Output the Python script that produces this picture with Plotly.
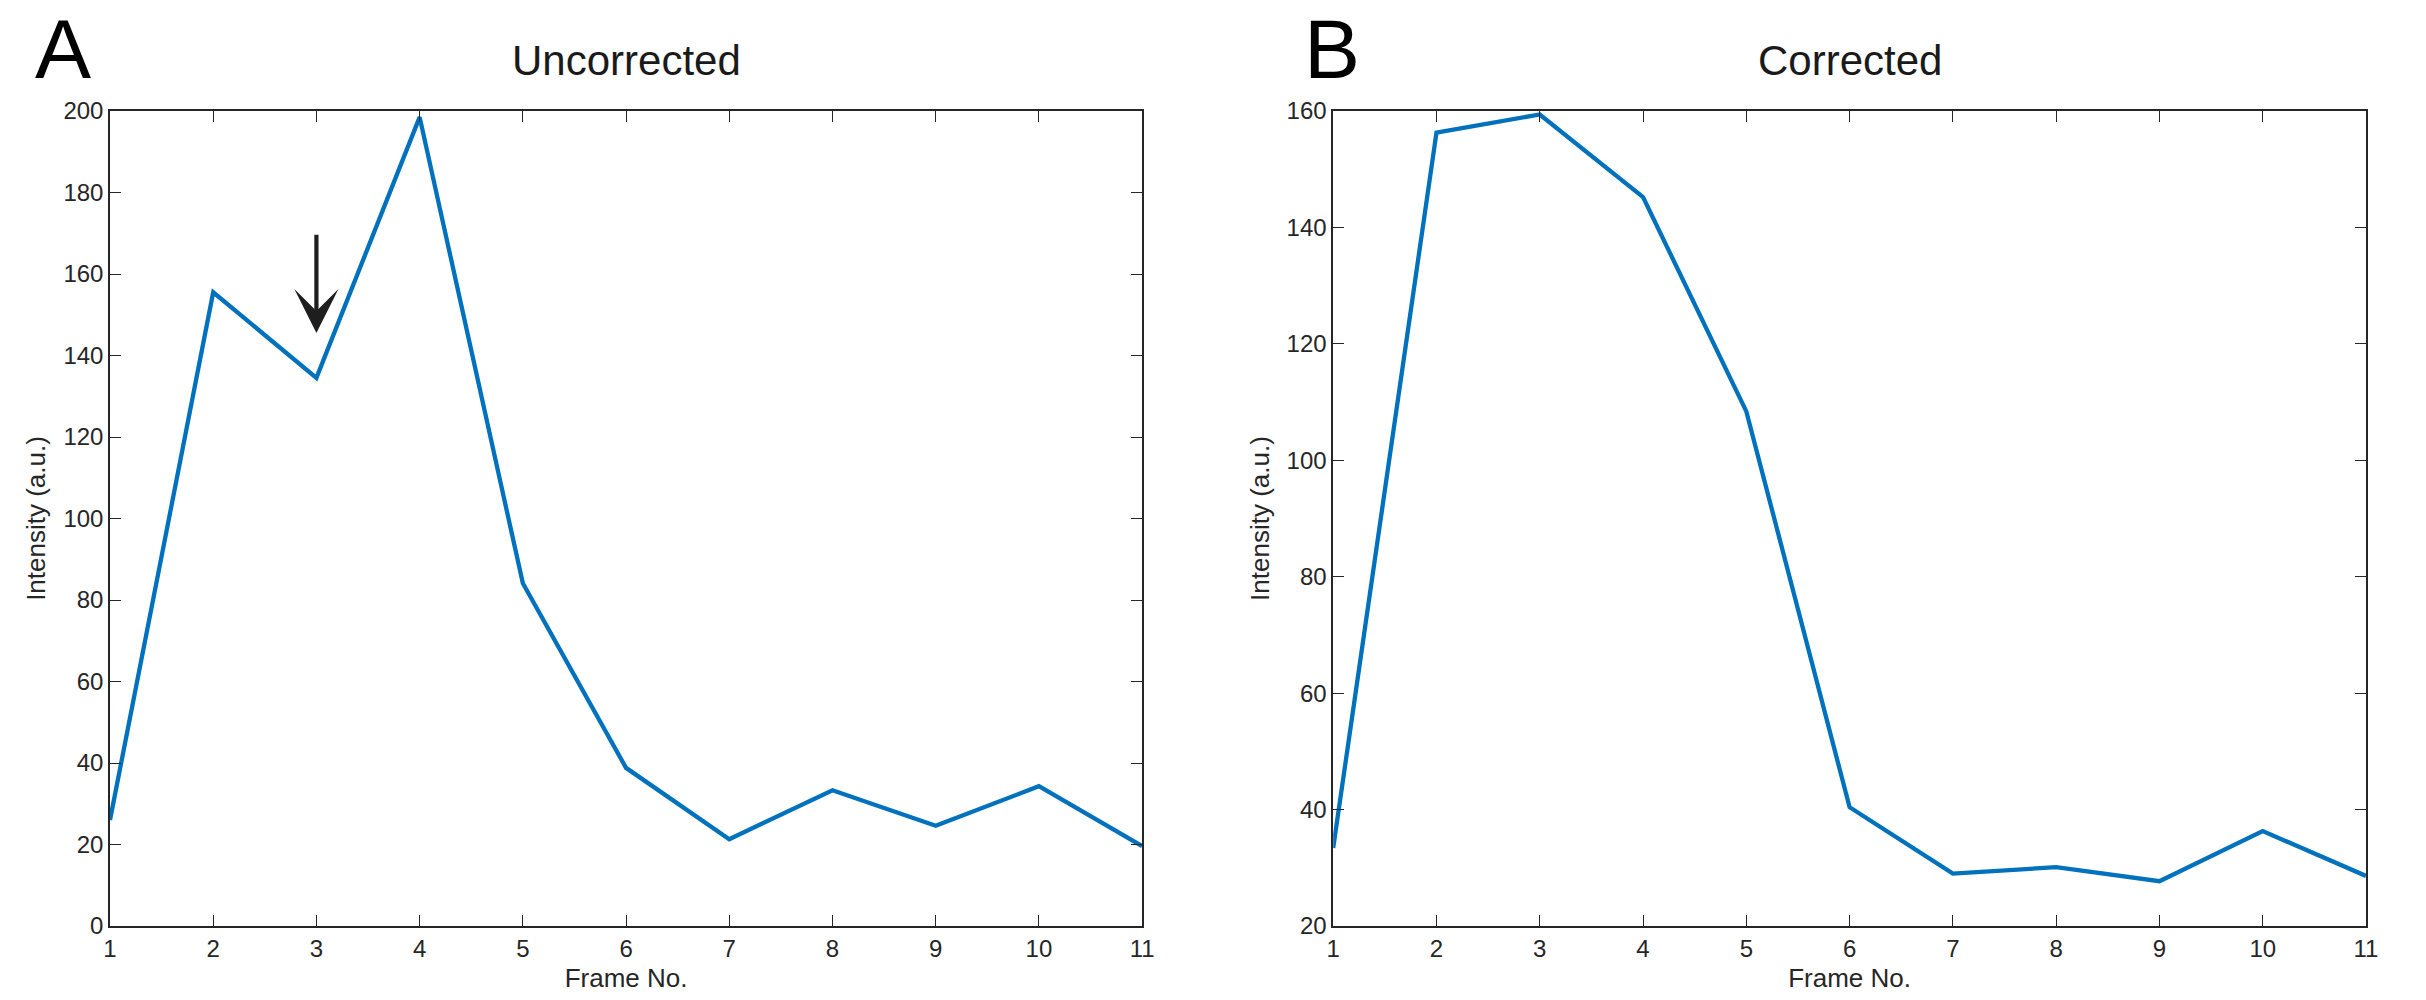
import plotly.graph_objects as go

frames = list(range(1, 12))
uncorrected = [26, 155.5, 134.5, 198.5, 84.1, 38.8, 21.3, 33.3, 24.6, 34.3, 19.6]
corrected = [33.4, 156.3, 159.4, 145.2, 108.4, 40.4, 29.0, 30.1, 27.7, 36.3, 28.6]

panel_titles = ["Uncorrected", "Corrected"]
panel_letters = ["A", "B"]
x_label = "Frame No."
y_label = "Intensity (a.u.)"
y_range_a = [0, 200]
y_range_b = [20, 160]
arrow_frame = 3
arrow_tip = 145.5
arrow_tail = 170

LINE = "#0072BD"
AX = "#262626"
FONT = "Liberation Sans, Arial, Helvetica, sans-serif"

fig = go.Figure()
fig.add_trace(go.Scatter(x=frames, y=uncorrected, mode="lines",
                         line=dict(color=LINE, width=4.3), xaxis="x", yaxis="y",
                         showlegend=False))
fig.add_trace(go.Scatter(x=frames, y=corrected, mode="lines",
                         line=dict(color=LINE, width=4.3), xaxis="x2", yaxis="y2",
                         showlegend=False))

common = dict(showline=True, linecolor=AX, linewidth=1.5, mirror="ticks",
              ticks="inside", ticklen=11, tickwidth=1.3, tickcolor=AX,
              showgrid=False, zeroline=False,
              tickfont=dict(family=FONT, size=24, color=AX))

xcommon = dict(common, range=[1, 11], tickvals=frames,
               title=dict(text=x_label, font=dict(family=FONT, size=26, color=AX), standoff=8))

fig.update_layout(
    width=2426, height=1000,
    margin=dict(l=110, r=60, t=111, b=74, pad=0),
    paper_bgcolor="white", plot_bgcolor="white",
    xaxis=dict(xcommon, domain=[0, 0.4575], anchor="y"),
    xaxis2=dict(xcommon, domain=[0.5422, 1], anchor="y2"),
    yaxis=dict(common, range=y_range_a, dtick=20, anchor="x",
               title=dict(text=y_label, font=dict(family=FONT, size=26, color=AX), standoff=10)),
    yaxis2=dict(common, range=y_range_b, dtick=20, anchor="x2",
                title=dict(text=y_label, font=dict(family=FONT, size=26, color=AX), standoff=10)),
)

centers = [0.4575 / 2, (0.5422 + 1) / 2]
letter_x = [-0.034, 0.5285]
for i in range(2):
    fig.add_annotation(text=panel_titles[i], xref="paper", yref="paper",
                       x=centers[i], y=1.062, xanchor="center", yanchor="middle",
                       showarrow=False, font=dict(family=FONT, size=42, color="#1a1a1a"))
    fig.add_annotation(text=panel_letters[i], xref="paper", yref="paper",
                       x=letter_x[i], y=1.076, xanchor="left", yanchor="middle",
                       showarrow=False, font=dict(family=FONT, size=84, color="black"))

fig.add_annotation(x=arrow_frame, y=arrow_tip, ax=arrow_frame, ay=arrow_tail,
                   xref="x", yref="y", axref="x", ayref="y", text="",
                   showarrow=True, arrowhead=3, arrowsize=1.75, arrowwidth=4.2,
                   arrowcolor="#1e1e1e", standoff=0)

fig.write_html("out.html", config={"displayModeBar": False},
               post_script="document.body.style.margin='0';")
